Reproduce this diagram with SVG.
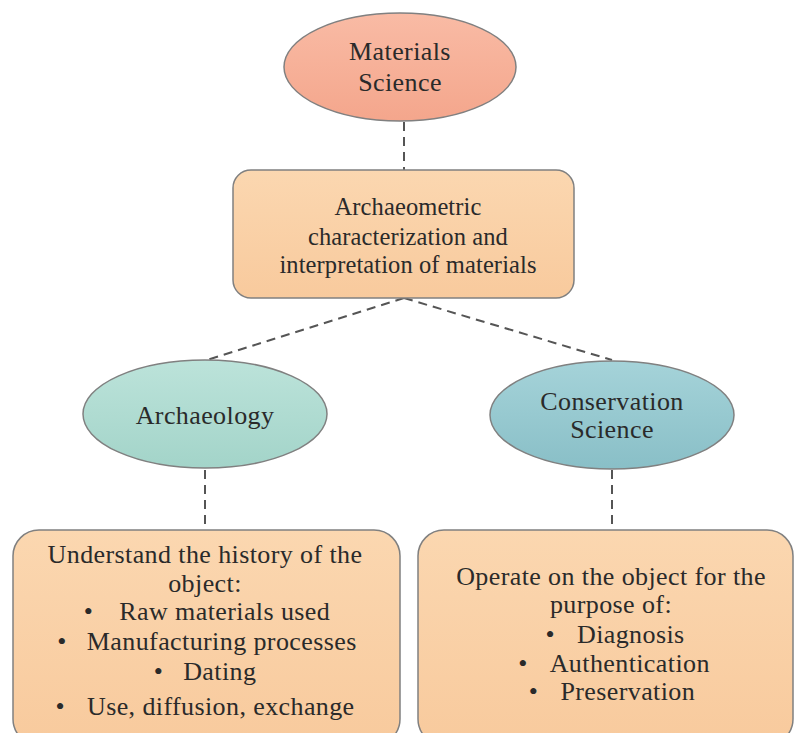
<svg xmlns="http://www.w3.org/2000/svg" width="795" height="733" viewBox="0 0 795 733">
<defs>
<linearGradient id="gSalmon" x1="0" y1="0" x2="0" y2="1"><stop offset="0" stop-color="#F9BBA5"/><stop offset="1" stop-color="#F4A68C"/></linearGradient>
<linearGradient id="gPeach" x1="0" y1="0" x2="0" y2="1"><stop offset="0" stop-color="#FBD7B0"/><stop offset="1" stop-color="#F8CA9D"/></linearGradient>
<linearGradient id="gMint" x1="0" y1="0" x2="0" y2="1"><stop offset="0" stop-color="#BCE3DA"/><stop offset="1" stop-color="#A3D4C9"/></linearGradient>
<linearGradient id="gTeal" x1="0" y1="0" x2="0" y2="1"><stop offset="0" stop-color="#A5D3D9"/><stop offset="1" stop-color="#89BFC7"/></linearGradient>
</defs>
<style>
.shape{stroke:#808080;stroke-width:1.5}
.conn{stroke:#555;stroke-width:2;stroke-dasharray:9 6;fill:none}
text{font-family:"Liberation Serif","Times New Roman",serif;font-size:26px;letter-spacing:0.4px;fill:#2a2a2a;text-anchor:middle}
text.mid{font-size:24.5px;letter-spacing:0.1px}
</style>
<rect width="795" height="733" fill="#ffffff"/>
<g id="connectors">
<line class="conn" x1="404" y1="122" x2="404" y2="170"/>
<line class="conn" x1="404" y1="298" x2="207" y2="360"/>
<line class="conn" x1="404" y1="298" x2="612" y2="360"/>
<line class="conn" x1="205" y1="470" x2="205" y2="530"/>
<line class="conn" x1="612" y1="470" x2="612" y2="530"/>
</g>
<g id="materials-science">
<ellipse class="shape" cx="400" cy="67" rx="116" ry="54" fill="url(#gSalmon)"/>
<text x="400" y="60">Materials</text>
<text x="400" y="91">Science</text>
</g>
<g id="archaeometric">
<rect class="shape" x="233" y="170" width="341" height="128" rx="18" fill="url(#gPeach)"/>
<text class="mid" x="408" y="215">Archaeometric</text>
<text class="mid" x="408" y="245">characterization and</text>
<text class="mid" x="408" y="273">interpretation of materials</text>
</g>
<g id="archaeology">
<ellipse class="shape" cx="205" cy="414" rx="122" ry="54" fill="url(#gMint)"/>
<text x="205" y="424">Archaeology</text>
</g>
<g id="conservation-science">
<ellipse class="shape" cx="612" cy="415" rx="122" ry="54" fill="url(#gTeal)"/>
<text x="612" y="410">Conservation</text>
<text x="612" y="438">Science</text>
</g>
<g id="history-box">
<rect class="shape" x="13" y="530" width="387" height="215" rx="26" fill="url(#gPeach)"/>
<text x="205" y="563">Understand the history of the</text>
<text x="205" y="592">object:</text>
<text x="207" y="620"><tspan>•</tspan><tspan dx="26">Raw materials used</tspan></text>
<text x="207" y="650"><tspan>•</tspan><tspan dx="20">Manufacturing processes</tspan></text>
<text x="205" y="680"><tspan>•</tspan><tspan dx="20">Dating</tspan></text>
<text x="205" y="715"><tspan>•</tspan><tspan dx="22">Use, diffusion, exchange</tspan></text>
</g>
<g id="operate-box">
<rect class="shape" x="418" y="530" width="375" height="215" rx="26" fill="url(#gPeach)"/>
<text x="611" y="585">Operate on the object for the</text>
<text x="611" y="613">purpose of:</text>
<text x="615" y="643"><tspan>•</tspan><tspan dx="22">Diagnosis</tspan></text>
<text x="614" y="672"><tspan>•</tspan><tspan dx="22">Authentication</tspan></text>
<text x="612" y="700"><tspan>•</tspan><tspan dx="22">Preservation</tspan></text>
</g>
</svg>
